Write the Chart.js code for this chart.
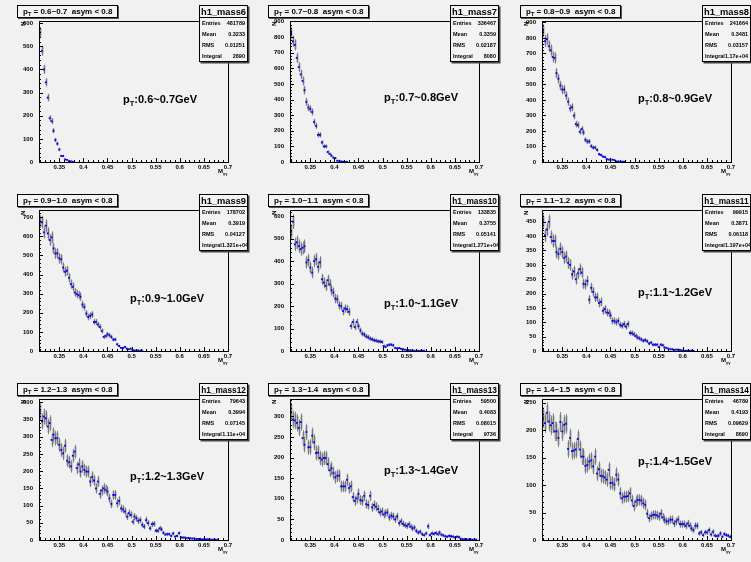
<!DOCTYPE html>
<html>
<head>
<meta charset="utf-8">
<script src="https://cdn.jsdelivr.net/npm/chart.js@4.4.1/dist/chart.umd.min.js"></script>
<style>
html, body { margin: 0; padding: 0; background: #fff; }
#wrap { position: relative; width: 751px; height: 562px; overflow: hidden; background: #f1f1f1;
        font-family: "Liberation Sans", Arial, sans-serif; font-weight: bold; color: #000; }
.pad { position: absolute; width: 250px; height: 189px; }
.pad canvas { position: absolute; left: 0; top: 0; }
.tbox { position: absolute; left: 17px; top: 5px; height: 11px; line-height: 11px; padding: 0 5px;
        font-size: 8px; border: 1px solid #000; background: #f3f3f3; box-shadow: 1px 1px 0 #555; white-space: pre; }
.stats { position: absolute; left: 199px; top: 5px; width: 47px; height: 55px; border: 1px solid #000;
         background: #f3f3f3; box-shadow: 1.5px 1.5px 0 #444; }
.sname { height: 11px; line-height: 12px; text-align: center; border-bottom: 1px solid #000; white-space: nowrap; overflow: hidden; }
.srow { height: 11px; line-height: 11px; font-size: 5.5px; display: flex; justify-content: space-between; padding: 0 2px; white-space: nowrap; }
.lab { position: absolute; font-size: 11px; white-space: nowrap; transform: translateY(-50%); }
.sub { font-size: 7.5px; position: relative; top: 3px; }
.ytit { position: absolute; left: 20px; top: 26px; font-size: 6px; transform: rotate(-90deg); transform-origin: left top; }
.xtit { position: absolute; left: 218px; top: 168px; font-size: 6px; white-space: nowrap; }
.xtit span { font-size: 4px; position: relative; top: 2px; }
</style>
</head>
<body>
<div id="wrap"></div>
<script>
// binning of the histograms (M_gg axis)
const binLow = 0.308;
const binWidth = 0.004;
const xTicks = [0.35, 0.4, 0.45, 0.5, 0.55, 0.6, 0.65, 0.7];

// bin contents, one array per pT slice
const mass6 = [559,480,400,344,278,189,176,135,95,79,54,26,26,11,9,3,3,1];
const mass7 = [826,773,750,667,608,561,519,460,385,349,339,320,256,231,174,174,125,100,100,64,51,40,28,25,8,8,4,2,1,1];
const mass8 = [846,779,792,746,720,677,671,573,537,493,467,467,428,389,346,353,299,244,238,195,212,190,143,132,132,102,93,93,78,50,45,35,32,19,15,15,15,13,4,4,2,2,2];
const mass9 = [677,674,621,656,616,581,595,537,511,511,485,480,437,415,420,383,350,336,306,298,292,284,243,231,196,178,184,191,152,152,138,126,105,74,79,88,82,74,60,60,35,26,16,16,21,12,9,12,5,3,3,3,2,2];
const mass10 = [530,575,474,483,466,453,459,466,394,404,371,349,400,408,374,394,319,304,290,315,296,270,260,233,230,203,199,177,189,186,174,111,129,107,129,110,91,77,73,65,61,55,52,48,46,43,42,40,22,18,25,28,28,25,13,12,13,10,8,6,4,4,3,3,1,1,1,1,1,1];
const mass11 = [450,403,423,450,397,383,383,344,338,356,344,324,329,307,300,267,277,250,270,285,273,234,232,244,179,220,206,187,187,167,171,140,146,134,132,124,105,105,100,105,91,88,93,85,94,63,62,58,52,47,44,40,36,38,34,26,29,22,22,22,14,22,20,12,11,8,6,6,4,5,5,4,2,1,1,1,1,1,1];
const mass12 = [374,345,359,354,330,340,291,306,296,296,277,262,252,274,231,226,214,245,257,209,220,199,214,204,199,199,170,183,173,150,170,134,144,150,146,141,121,105,131,131,107,114,92,89,83,68,78,73,53,68,63,56,58,44,39,58,49,34,46,47,27,27,34,31,21,16,17,17,12,19,10,12,20,8,7,7,5,6,5,4,5,3,3,3,2,2,2,2,2,1,1,1,1];
const mass13 = [311,292,290,284,272,286,247,231,262,225,225,253,237,211,212,199,195,199,199,184,169,174,162,152,156,156,130,130,130,146,126,130,104,95,101,112,97,95,107,87,85,107,79,85,81,75,67,69,62,65,67,55,59,57,50,57,41,45,39,36,34,38,32,28,30,22,18,20,14,12,16,33,12,16,15,17,14,18,13,11,9,8,10,9,8,6,8,7,3,2,2,2,1,2,1,1,1];
const mass14 = [223,213,232,216,209,213,198,198,186,215,198,210,212,166,186,162,163,165,184,165,152,152,135,137,143,145,134,152,121,129,117,116,114,110,128,104,104,101,119,110,85,76,79,79,80,85,72,62,70,73,73,72,67,64,48,40,44,46,46,45,43,48,41,37,34,34,37,37,30,34,37,29,29,29,26,30,26,21,18,26,26,12,14,9,14,14,18,10,15,8,7,8,12,6,11,9,8,6];

const allCounts = [mass6, mass7, mass8, mass9, mass10, mass11, mass12, mass13, mass14];

// texts of the stat boxes and titles
const histNames = ['h1_mass6','h1_mass7','h1_mass8','h1_mass9','h1_mass10','h1_mass11','h1_mass12','h1_mass13','h1_mass14'];
const ptRanges = ['0.6~0.7','0.7~0.8','0.8~0.9','0.9~1.0','1.0~1.1','1.1~1.2','1.2~1.3','1.3~1.4','1.4~1.5'];
const entries = ['481789','336467','241664','178702','133835','99915','79643','59500','46789'];
const means = ['0.3233','0.3359','0.3481','0.3919','0.3755','0.3871','0.3994','0.4083','0.4193'];
const rmsVals = ['0.01251','0.02187','0.03157','0.04127','0.05141','0.06118','0.07145','0.08015','0.09629'];
const integrals = ['2890','8080','1.17e+04','1.321e+04','1.271e+04','1.197e+04','1.11e+04','9736','8690'];

// y axis ranges
const yMax = [609, 903, 909, 738, 627, 491, 410, 342, 257];
const yStep = [100, 100, 100, 100, 100, 50, 50, 50, 50];
// error bar scale (err = k * sqrt(N))
const errK = [1.0, 1.3, 1.4, 1.3, 1.4, 1.2, 1.25, 1.25, 1.25];

// layout
const colX = [0, 251, 503];
const rowY = [0, 189, 378];
const labelPos = [[123,99],[133,97],[135,98],[130,109],[133,114],[135,103],[130,98],[133,92],[135,83]];

const tickFont = { family: '"Liberation Sans", Arial, sans-serif', size: 6, weight: 'bold' };

// error bars, frame and inward ROOT style ticks
const rootFrame = {
  id: 'rootFrame',
  beforeDatasetsDraw(chart, args, opts) {
    const { ctx, chartArea: a, scales: { x, y } } = chart;
    ctx.save();
    ctx.beginPath();
    ctx.rect(a.left, a.top, a.width, a.height);
    ctx.clip();
    chart.data.datasets[0].data.forEach(p => {
      const e = opts.k * Math.sqrt(p.y);
      const px = Math.round(x.getPixelForValue(p.x)) + 0.5;
      const yt = y.getPixelForValue(p.y + e);
      const yb = y.getPixelForValue(Math.max(0, p.y - e));
      ctx.fillStyle = 'rgba(175,175,175,0.55)';
      ctx.fillRect(px - 1.5, yt + (yb - yt) * 0.12, 3, (yb - yt) * 0.76);
      ctx.strokeStyle = 'rgba(40,40,40,0.85)';
      ctx.lineWidth = 0.6;
      ctx.beginPath();
      ctx.moveTo(px, yt);
      ctx.lineTo(px, yb);
      ctx.stroke();
    });
    ctx.restore();
  },
  afterDraw(chart, args, opts) {
    const { ctx, chartArea: a, scales: { x, y } } = chart;
    ctx.save();
    ctx.strokeStyle = '#000';
    ctx.lineWidth = 1;
    ctx.strokeRect(Math.round(a.left) + 0.5, Math.round(a.top) + 0.5, Math.round(a.width), Math.round(a.height));
    ctx.beginPath();
    // x ticks every 0.01, major every 0.05
    for (let k = 31; k <= 70; k++) {
      const px = Math.round(x.getPixelForValue(k / 100)) + 0.5;
      const len = k % 5 === 0 ? 4 : 2;
      ctx.moveTo(px, a.bottom);
      ctx.lineTo(px, a.bottom - len);
    }
    // y ticks
    const minor = opts.step / 5;
    for (let v = 0; v <= y.max; v += minor) {
      const py = Math.round(y.getPixelForValue(v)) + 0.5;
      const len = Math.abs(v / opts.step - Math.round(v / opts.step)) < 1e-6 ? 4 : 2;
      ctx.moveTo(a.left, py);
      ctx.lineTo(a.left + len, py);
    }
    ctx.stroke();
    ctx.restore();
  }
};

const wrap = document.getElementById('wrap');

allCounts.forEach((counts, p) => {
  const col = p % 3, row = Math.floor(p / 3);
  const pad = document.createElement('div');
  pad.className = 'pad';
  pad.style.left = colX[col] + 'px';
  pad.style.top = rowY[row] + 'px';
  wrap.appendChild(pad);

  const cv = document.createElement('canvas');
  cv.width = 250;
  cv.height = 189;
  pad.appendChild(cv);

  const pts = counts.map((v, i) => ({ x: binLow + binWidth * (i + 0.5), y: v }));
  const step = yStep[p];

  new Chart(cv.getContext('2d'), {
    type: 'scatter',
    data: {
      datasets: [{
        data: pts,
        pointStyle: 'rect',
        pointRadius: 1.3,
        backgroundColor: '#0000ff',
        borderColor: '#0000ff',
        borderWidth: 0
      }]
    },
    options: {
      responsive: false,
      animation: false,
      events: [],
      layout: { padding: { top: 21, right: 22, left: 0, bottom: 0 } },
      plugins: {
        legend: { display: false },
        tooltip: { enabled: false },
        rootFrame: { k: errK[p], step: step }
      },
      scales: {
        x: {
          type: 'linear',
          min: binLow,
          max: 0.7,
          afterBuildTicks: s => { s.ticks = xTicks.map(v => ({ value: v })); },
          afterFit: s => { s.height = 27; },
          grid: { display: false, drawTicks: false },
          border: { display: false },
          ticks: {
            font: tickFont, color: '#000', padding: 2, maxRotation: 0, autoSkip: false,
            callback: v => String(+v.toFixed(2))
          }
        },
        y: {
          min: 0,
          max: yMax[p],
          afterBuildTicks: s => {
            const t = [];
            for (let v = 0; v <= yMax[p]; v += step) t.push({ value: v });
            s.ticks = t;
          },
          afterFit: s => { s.width = 39; },
          grid: { display: false, drawTicks: false },
          border: { display: false },
          ticks: { font: tickFont, color: '#000', padding: 6, autoSkip: false }
        }
      }
    },
    plugins: [rootFrame]
  });

  // title box
  const tb = document.createElement('div');
  tb.className = 'tbox';
  tb.innerHTML = 'p<span class="sub" style="font-size:5.5px;top:2px">T</span> = ' + ptRanges[p] + '  asym &lt; 0.8';
  pad.appendChild(tb);

  // stat box
  const st = document.createElement('div');
  st.className = 'stats';
  const nameSize = histNames[p].length > 8 ? 8.3 : 9.3;
  st.innerHTML = '<div class="sname" style="font-size:' + nameSize + 'px">' + histNames[p] + '</div>' +
    '<div class="srow"><span>Entries</span><span>' + entries[p] + '</span></div>' +
    '<div class="srow"><span>Mean</span><span>' + means[p] + '</span></div>' +
    '<div class="srow"><span>RMS</span><span>' + rmsVals[p] + '</span></div>' +
    '<div class="srow"><span>Integral</span><span>' + integrals[p] + '</span></div>';
  pad.appendChild(st);

  // pT label
  const lb = document.createElement('div');
  lb.className = 'lab';
  lb.style.left = labelPos[p][0] + 'px';
  lb.style.top = labelPos[p][1] + 'px';
  lb.innerHTML = 'p<span class="sub">T</span>:' + ptRanges[p] + 'GeV';
  pad.appendChild(lb);

  // axis titles
  const yt = document.createElement('div');
  yt.className = 'ytit';
  yt.textContent = 'N';
  pad.appendChild(yt);
  const xt = document.createElement('div');
  xt.className = 'xtit';
  xt.innerHTML = 'M<span>\u03b3\u03b3</span>';
  pad.appendChild(xt);
});
</script>
</body>
</html>
